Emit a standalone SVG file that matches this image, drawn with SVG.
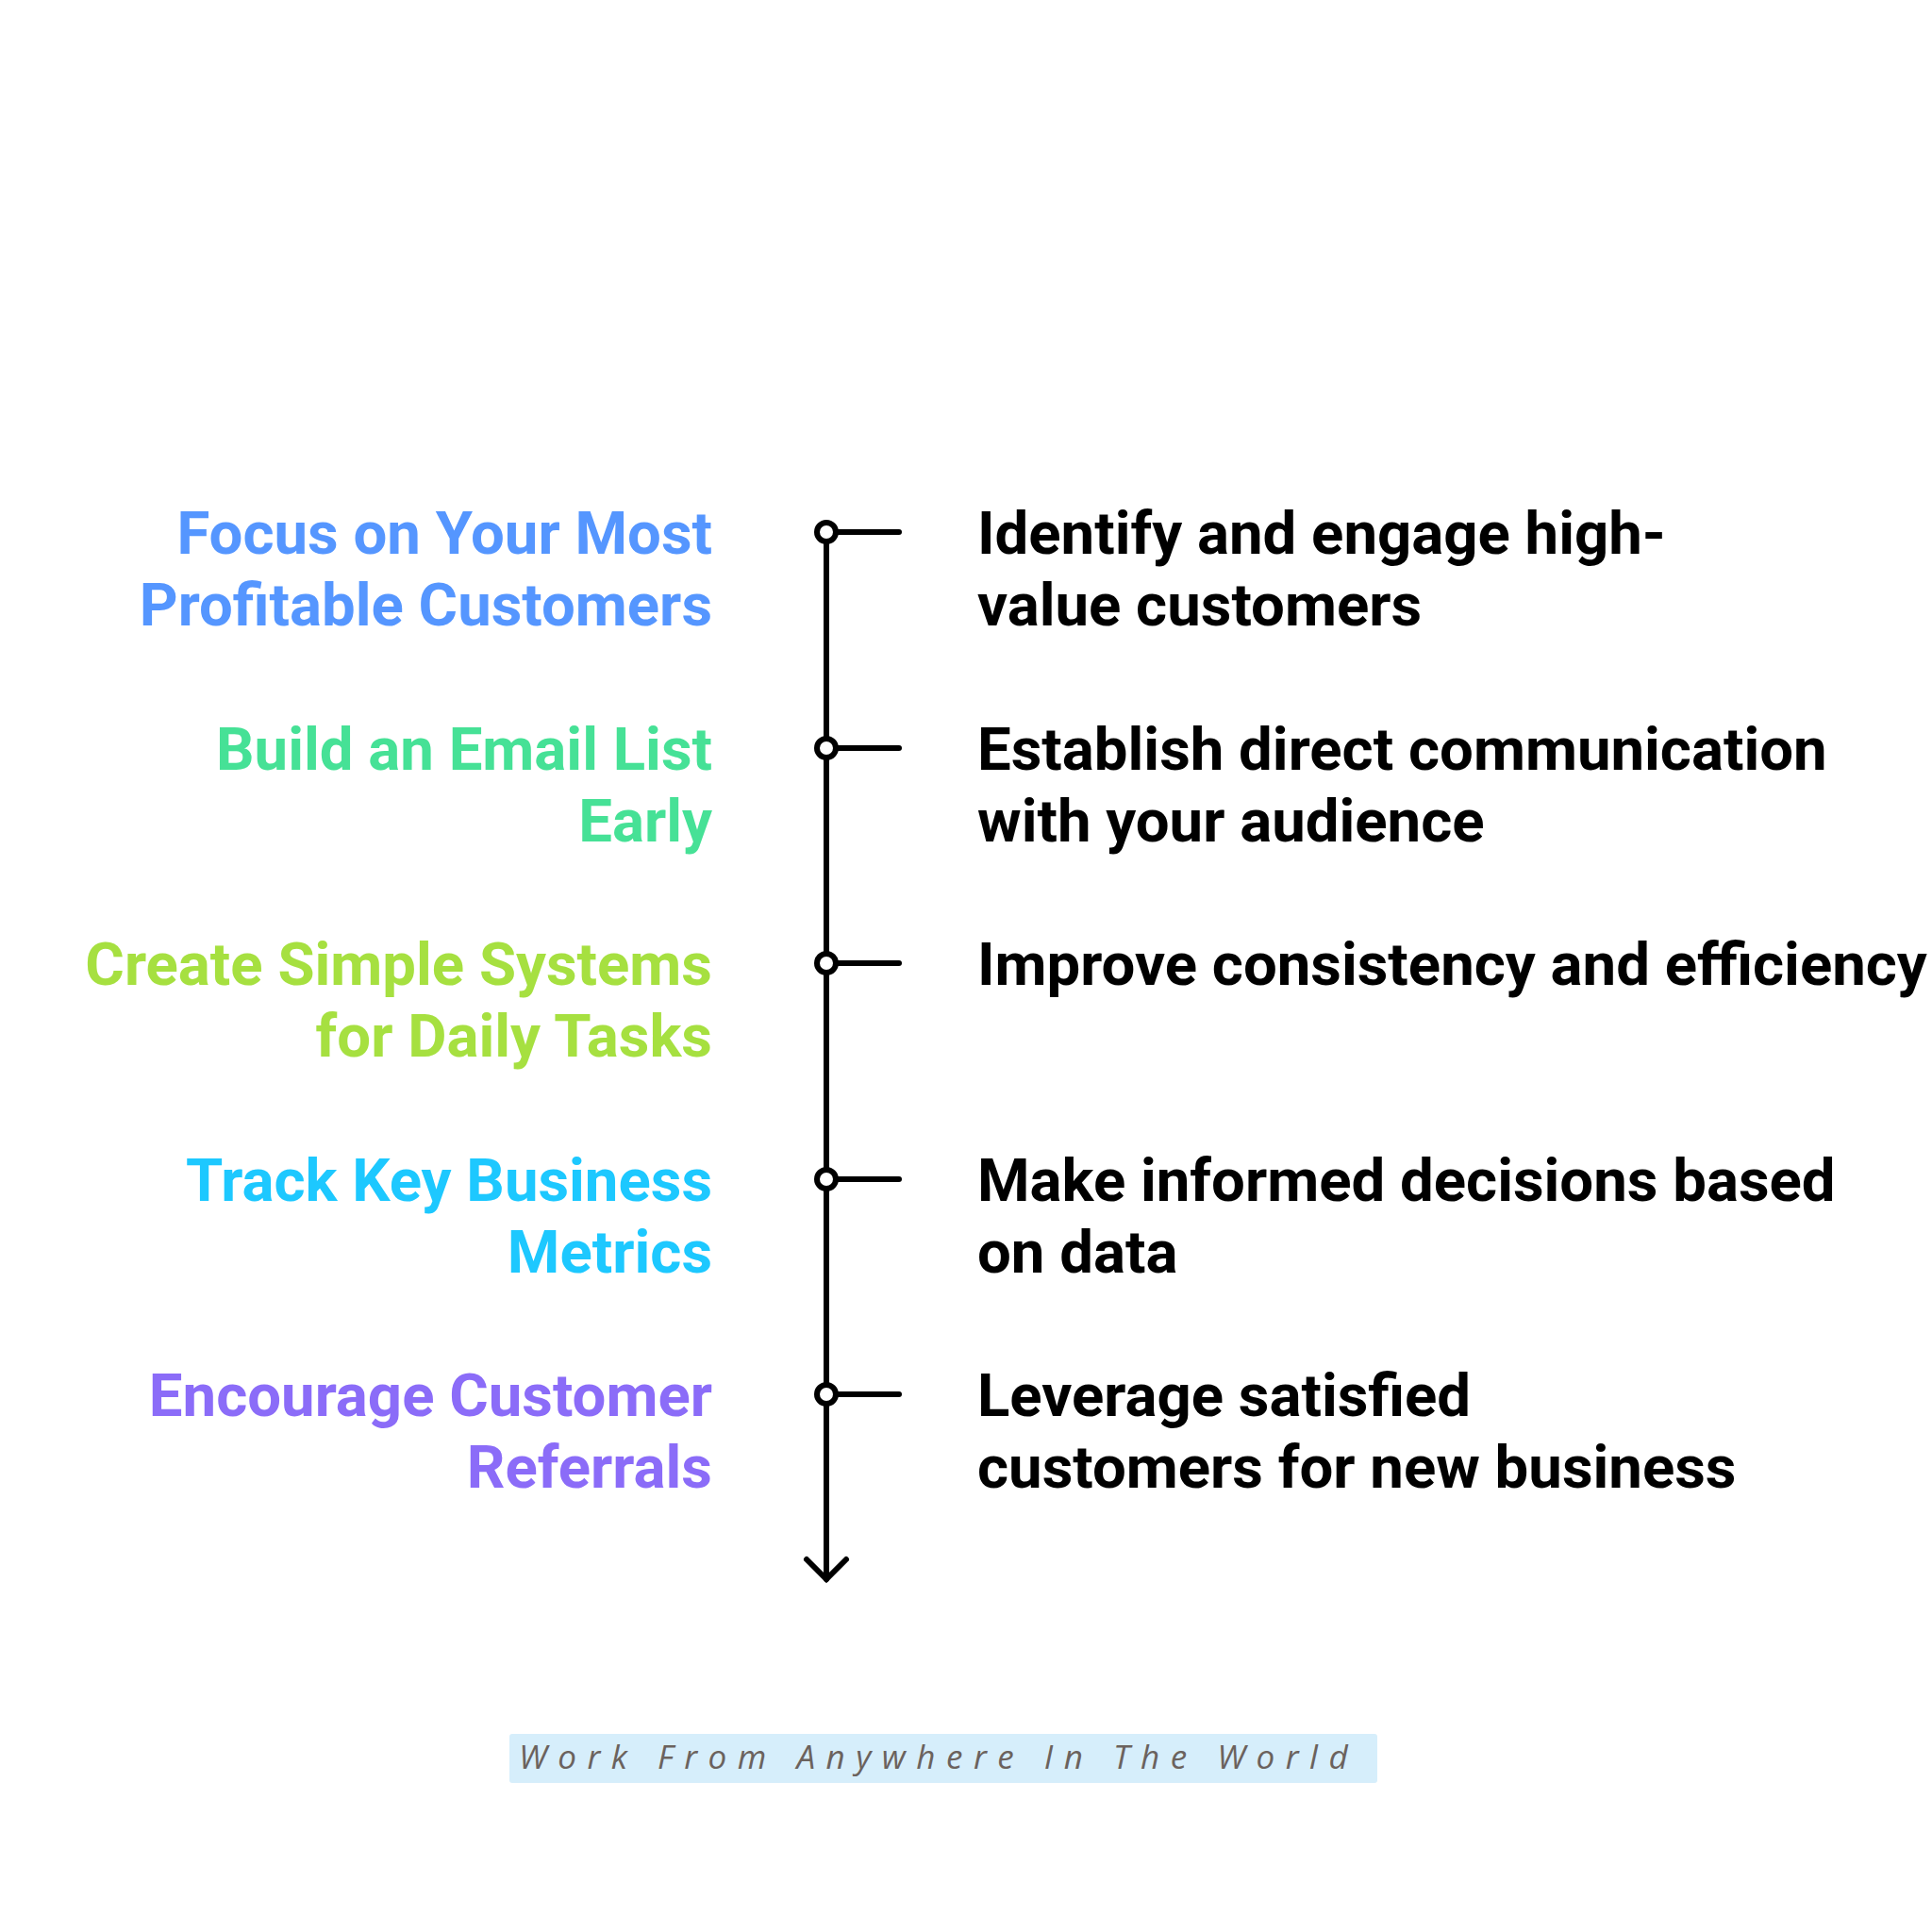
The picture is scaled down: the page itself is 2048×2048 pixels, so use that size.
<svg xmlns="http://www.w3.org/2000/svg" width="2048" height="2048" viewBox="0 0 2048 2048">
<style>
.l{font-family:Roboto,"Liberation Sans",sans-serif;font-weight:700;font-size:63.5px;text-anchor:end}
.r{font-family:Roboto,"Liberation Sans",sans-serif;font-weight:700;font-size:63.5px;fill:#000}
.ln{stroke:#000;stroke-width:6;stroke-linecap:round;fill:none}
.dot{fill:#fff;stroke:#000;stroke-width:6}
.ft{font-family:"Open Sans","Liberation Sans",sans-serif;font-style:italic;font-size:35px;fill:#6b625d;letter-spacing:11.5px}
</style>
<rect width="2048" height="2048" fill="#fff"/>
<g id="connectors">
<line class="ln" x1="876" y1="564" x2="876" y2="1674"/>
<polyline class="ln" points="855,1653 876,1674 897,1653"/>
<line class="ln" x1="876" y1="564" x2="953" y2="564"/>
<line class="ln" x1="876" y1="793" x2="953" y2="793"/>
<line class="ln" x1="876" y1="1021" x2="953" y2="1021"/>
<line class="ln" x1="876" y1="1250" x2="953" y2="1250"/>
<line class="ln" x1="876" y1="1478" x2="953" y2="1478"/>
</g>
<g id="node1">
<circle class="dot" cx="876" cy="564" r="10"/>
<text class="l" fill="#5596ff" x="755" y="587">Focus on Your Most</text>
<text class="l" fill="#5596ff" x="755" y="663">Profitable Customers</text>
<text class="r" x="1036" y="587">Identify and engage high-</text>
<text class="r" x="1036" y="663">value customers</text>
</g>
<g id="node2">
<circle class="dot" cx="876" cy="793" r="10"/>
<text class="l" fill="#46e196" x="755" y="816">Build an Email List</text>
<text class="l" fill="#46e196" x="755" y="892">Early</text>
<text class="r" x="1036" y="816">Establish direct communication</text>
<text class="r" x="1036" y="892">with your audience</text>
</g>
<g id="node3">
<circle class="dot" cx="876" cy="1021" r="10"/>
<text class="l" fill="#a6e040" x="755" y="1044">Create Simple Systems</text>
<text class="l" fill="#a6e040" x="755" y="1120">for Daily Tasks</text>
<text class="r" x="1036" y="1044">Improve consistency and efficiency</text>
</g>
<g id="node4">
<circle class="dot" cx="876" cy="1250" r="10"/>
<text class="l" fill="#1dc8ff" x="755" y="1273">Track Key Business</text>
<text class="l" fill="#1dc8ff" x="755" y="1349">Metrics</text>
<text class="r" x="1036" y="1273">Make informed decisions based</text>
<text class="r" x="1036" y="1349">on data</text>
</g>
<g id="node5">
<circle class="dot" cx="876" cy="1478" r="10"/>
<text class="l" fill="#8b6cf8" x="755" y="1501">Encourage Customer</text>
<text class="l" fill="#8b6cf8" x="755" y="1577">Referrals</text>
<text class="r" x="1036" y="1501">Leverage satisfied</text>
<text class="r" x="1036" y="1577">customers for new business</text>
</g>
<g id="footer">
<rect x="540" y="1838" width="920" height="52" rx="3" fill="#d6eefb"/>
<text class="ft" x="550" y="1875">Work From Anywhere In The World</text>
</g>
</svg>
